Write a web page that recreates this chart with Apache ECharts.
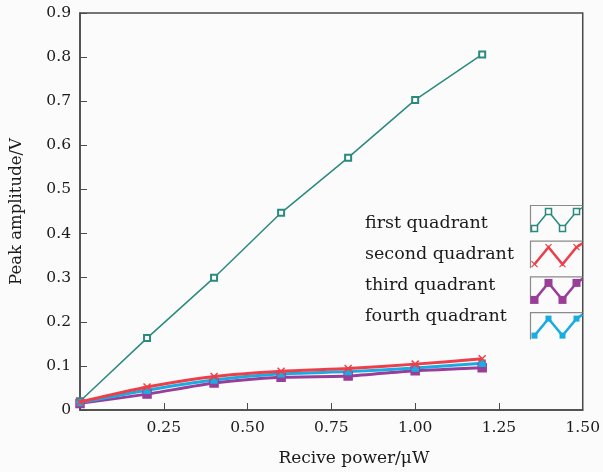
<!DOCTYPE html>
<html>
<head>
<meta charset="utf-8">
<script src="https://cdn.jsdelivr.net/npm/echarts@6/dist/echarts.min.js"></script>
<style>
  html, body { margin: 0; padding: 0; background: #fbfbfb; }
  #chart { width: 603px; height: 472px; }
</style>
</head>
<body>
<div id="chart"></div>
<script>
// received power (uW)
const xValues = [0, 0.2, 0.4, 0.6, 0.8, 1.0, 1.2];
// peak amplitude (V) per quadrant
const firstQuadrant = [0.02, 0.163, 0.3, 0.447, 0.572, 0.703, 0.806];
const secondQuadrant = [0.018, 0.052, 0.076, 0.088, 0.094, 0.104, 0.116];
const thirdQuadrant = [0.015, 0.036, 0.061, 0.074, 0.077, 0.089, 0.096];
const fourthQuadrant = [0.017, 0.045, 0.068, 0.082, 0.087, 0.095, 0.106];
const seriesNames = ["first quadrant", "second quadrant", "third quadrant", "fourth quadrant"];

const FONT = "DejaVu Serif";
const TEXT = "#1a1a1a";
const crossPath = "path://M0,0L10,10M10,0L0,10";

const styles = [
  { color: "#2b8a7e", width: 1.5, symbol: "emptyRect", size: 6, smooth: false },
  { color: "#ec3f4a", width: 3, symbol: crossPath, size: 7, smooth: 0.2 },
  { color: "#993d99", width: 3, symbol: "rect", size: 8, smooth: 0.2 },
  { color: "#18ace2", width: 3, symbol: "rect", size: 6, smooth: 0.2 }
];

const allValues = [firstQuadrant, secondQuadrant, thirdQuadrant, fourthQuadrant];

const chart = echarts.init(document.getElementById("chart"));

const series = allValues.map((vals, i) => ({
  name: seriesNames[i],
  type: "line",
  data: xValues.map((x, j) => [x, vals[j]]),
  symbol: styles[i].symbol,
  symbolSize: styles[i].size,
  smooth: styles[i].smooth,
  z: i === 1 ? 5 : 3,
  lineStyle: { color: styles[i].color, width: styles[i].width },
  itemStyle: {
    color: styles[i].color,
    borderColor: styles[i].color,
    borderWidth: 1.5
  }
}));

// legend drawn as text + framed zigzag sample, like the original figure
const legendGraphic = [];
const zig = [[4, 21], [18, 4], [32, 21], [46, 4], [52, 0]];
seriesNames.forEach((name, i) => {
  const st = styles[i];
  legendGraphic.push({
    type: "text",
    left: 365,
    top: 214 + i * 31.3,
    style: { text: name, font: "17.5px '" + FONT + "'", fill: TEXT }
  });
  const children = [];
  children.push({
    type: "polyline",
    shape: { points: [[52, 0], [0, 0], [0, 27]] },
    style: { stroke: "#8a8a8a", lineWidth: 1.2, fill: null }
  });
  children.push({
    type: "polyline",
    shape: { points: zig.map(p => [p[0], p[1] + 2]) },
    style: { stroke: st.color, lineWidth: st.width === 3 ? 2.5 : 1.5, fill: null }
  });
  zig.slice(0, 4).forEach(p => {
    const cx = p[0], cy = p[1] + 2;
    if (i === 1) {
      children.push({
        type: "polyline",
        shape: { points: [[cx - 3, cy - 3], [cx + 3, cy + 3]] },
        style: { stroke: st.color, lineWidth: 1.2 }
      }, {
        type: "polyline",
        shape: { points: [[cx + 3, cy - 3], [cx - 3, cy + 3]] },
        style: { stroke: st.color, lineWidth: 1.2 }
      });
    } else {
      const s = st.size;
      children.push({
        type: "rect",
        shape: { x: cx - s / 2, y: cy - s / 2, width: s, height: s },
        style: i === 0
          ? { fill: "#fbfbfb", stroke: st.color, lineWidth: 1.5 }
          : { fill: st.color }
      });
    }
  });
  legendGraphic.push({
    type: "group",
    left: 528,
    top: 203 + i * 35.7,
    children: children
  });
});

const options = {
  backgroundColor: "#fbfbfb",
  animation: false,
  textStyle: { fontFamily: FONT },
  grid: {
    left: 77, right: 17, top: 13, bottom: 61,
    show: true, borderColor: "#4a4a4a", borderWidth: 1.5,
    backgroundColor: "transparent"
  },
  xAxis: {
    type: "value",
    min: 0, max: 1.5, interval: 0.25,
    name: "Recive power/\u03bcW",
    nameLocation: "middle",
    nameGap: 40,
    nameTextStyle: { fontFamily: FONT, fontSize: 17, color: TEXT, padding: [0, 0, 0, 45] },
    axisLine: { lineStyle: { color: "#4a4a4a", width: 1.5 } },
    axisTick: { inside: true, length: 7, lineStyle: { color: "#4a4a4a" } },
    splitLine: { show: false },
    axisLabel: {
      fontFamily: FONT, fontSize: 15.5, color: TEXT, margin: 10,
      formatter: v => (v === 0 ? "" : v.toFixed(2))
    }
  },
  yAxis: {
    type: "value",
    min: 0, max: 0.9, interval: 0.1,
    name: "Peak amplitude/V",
    nameLocation: "middle",
    nameGap: 55,
    nameTextStyle: { fontFamily: FONT, fontSize: 16.5, color: TEXT },
    axisLine: { lineStyle: { color: "#4a4a4a", width: 1.5 } },
    axisTick: { inside: true, length: 7, lineStyle: { color: "#4a4a4a" } },
    splitLine: { show: false },
    axisLabel: {
      fontFamily: FONT, fontSize: 15.5, color: TEXT, margin: 9,
      formatter: v => (v === 0 ? "0" : v.toFixed(1))
    }
  },
  graphic: legendGraphic,
  series: series
};

chart.setOption(options);
</script>
</body>
</html>
